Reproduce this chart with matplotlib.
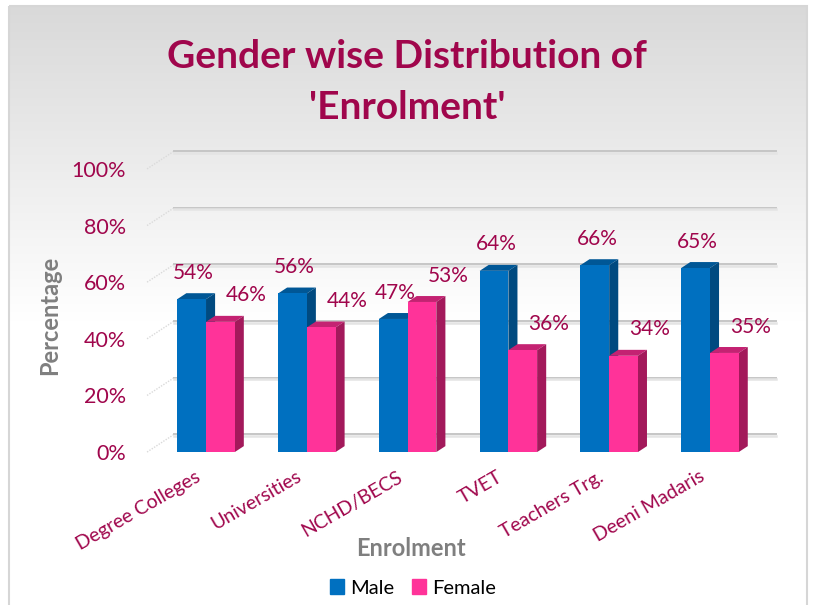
import numpy as np
import matplotlib
matplotlib.use('Agg')
import matplotlib.pyplot as plt
from matplotlib.patches import Polygon, Rectangle, Patch
from matplotlib.transforms import ScaledTranslation

plt.rcParams['font.family'] = ['Lato', 'DejaVu Sans']

# data
categories = ['Degree Colleges', 'Universities', 'NCHD/BECS', 'TVET',
              'Teachers Trg.', 'Deeni Madaris']
male = [54, 56, 47, 64, 66, 65]
female = [46, 44, 53, 36, 34, 35]
yticks = [0, 20, 40, 60, 80, 100]
ytick_labels = ['0%', '20%', '40%', '60%', '80%', '100%']

TITLE_COL = '#A0064C'
AXIS_COL = '#7F7F7F'
MALE_COLS = ('#0070C0', '#005796', '#004A80')      # front, top, side
FEMALE_COLS = ('#FF3399', '#C42272', '#A3195B')

# geometry (in data units)
W = 0.285          # bar width
BDX, BDY = 0.09, 2.1    # bar depth
GDX, GDY = 0.27, 6.3    # wall depth
X_LEFT, X_RIGHT = -0.585, 5.66

fig = plt.figure(figsize=(8.13, 6.05), dpi=100)

# gradient background with thin frame
bg = fig.add_axes([0, 0, 1, 1], zorder=-1)
bg.axis('off')
grad = np.clip(np.linspace(217, 290, 300), 0, 255)[:, None] / 255.0
grad = np.repeat(grad, 2, axis=1)
bg.imshow(np.dstack([grad, grad, grad]), extent=(9, 807, 610, 6),
          aspect='auto', interpolation='bilinear')
bg.add_patch(Rectangle((9, 6), 798, 610, fill=False, ec='#D6D6D6', lw=1.5))
bg.set_xlim(0, 813)
bg.set_ylim(605, 0)

ax = fig.add_axes([140 / 813, 145 / 605, 650 / 813, 320 / 605])
ax.set_facecolor('none')
ax.set_xlim(-0.655, 5.794)
ax.set_ylim(-2.8, 110.2)
for s in ax.spines.values():
    s.set_visible(False)

# back wall grid + side stubs
for t in yticks:
    ax.plot([X_LEFT, X_LEFT + GDX], [t, t + GDY], color='#DADADA', lw=1.0,
            ls=(0, (1, 1)), zorder=1)
    ax.plot([X_LEFT + GDX, X_RIGHT], [t + GDY, t + GDY], color='#C6C6C6',
            lw=1.4, zorder=1)
    ax.plot([X_LEFT + GDX, X_RIGHT], [t + GDY - 0.6, t + GDY - 0.6],
            color='#E4E4E4', lw=1.8, zorder=1)

x = np.arange(len(categories))


def bar3d(xs, vals, cols, z):
    front, top, side = cols
    ax.bar(xs, vals, W, align='edge', color=front, zorder=z + 1, lw=0)
    for x0, v in zip(xs, vals):
        x1 = x0 + W
        ax.add_patch(Polygon([(x0, v), (x1, v), (x1 + BDX, v + BDY),
                              (x0 + BDX, v + BDY)], closed=True,
                             fc=top, ec='none', zorder=z))
        ax.add_patch(Polygon([(x1, 0), (x1 + BDX, BDY), (x1 + BDX, v + BDY),
                              (x1, v)], closed=True,
                             fc=side, ec='none', zorder=z))


bar3d(x - W, male, MALE_COLS, 2)
bar3d(x, female, FEMALE_COLS, 4)

for xi, m, f in zip(x, male, female):
    ax.text(xi - W / 2 + 0.02, m + 9.3, f'{m}%', ha='center', va='center',
            color=TITLE_COL, fontsize=15, zorder=6)
    ax.text(xi + W / 2 + 0.26, f + 9.3, f'{f}%', ha='center', va='center',
            color=TITLE_COL, fontsize=15, zorder=6)

ax.set_yticks(yticks)
ax.set_yticklabels(ytick_labels, color=TITLE_COL, fontsize=15.5)
ax.tick_params(axis='y', length=0, pad=10)
ax.set_xticks(x)
ax.set_xticklabels(categories, rotation=30, ha='right', va='center',
                   rotation_mode='anchor', color=TITLE_COL, fontsize=14)
ax.tick_params(axis='x', length=0, pad=11)
shift = ScaledTranslation(-5 / 72, 0, fig.dpi_scale_trans)
for lab in ax.get_xticklabels():
    lab.set_transform(lab.get_transform() + shift)

fig.text(407 / 813, 1 - 82 / 605, "Gender wise Distribution of\n'Enrolment'",
         ha='center', va='center', fontsize=28, fontweight='bold',
         color=TITLE_COL, linespacing=1.55)
fig.text(50 / 813, 1 - 315 / 605, 'Percentage', rotation=90, ha='center',
         va='center', fontsize=17, fontweight='bold', color=AXIS_COL)
fig.text(411 / 813, 1 - 548 / 605, 'Enrolment', ha='center', va='center',
         fontsize=17, fontweight='bold', color=AXIS_COL)

handles = [Patch(color=MALE_COLS[0], label='Male'),
           Patch(color=FEMALE_COLS[0], label='Female')]
fig.legend(handles=handles, loc='center', bbox_to_anchor=(413 / 813, 17 / 605),
           ncol=2, frameon=False, fontsize=14.5, handlelength=0.7,
           handleheight=0.7, handletextpad=0.3, columnspacing=0.9)

fig.savefig('out.png', dpi=100)
